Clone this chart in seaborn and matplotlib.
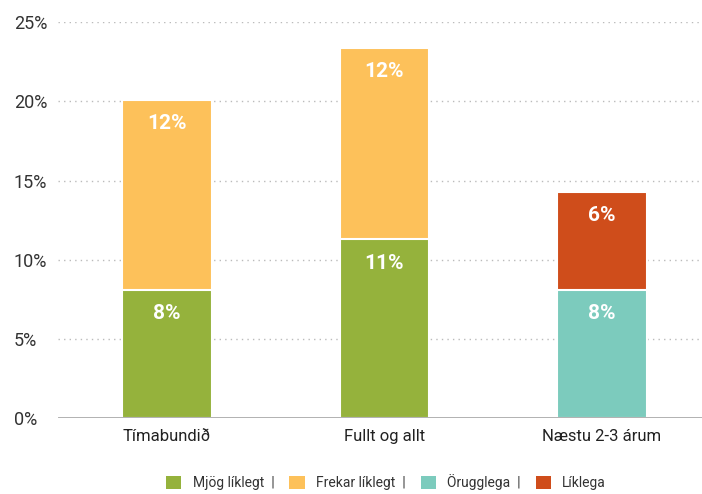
import matplotlib
import matplotlib.pyplot as plt
import pandas as pd
import seaborn as sns
from matplotlib.patches import Patch

matplotlib.use("Agg")

categories = ["Tímabundið", "Fullt og allt", "Næstu 2-3 árum"]
bottom_values = [8.1, 11.3, 8.1]
bottom_series = ["Mjög líklegt", "Mjög líklegt", "Örugglega"]
top_values = [12.0, 12.1, 6.2]
top_series = ["Frekar líklegt", "Frekar líklegt", "Líklega"]
legend_order = ["Mjög líklegt", "Frekar líklegt", "Örugglega", "Líklega"]
colors = {
    "Mjög líklegt": "#95b23c",
    "Frekar líklegt": "#fdc15a",
    "Örugglega": "#7ccbbd",
    "Líklega": "#cf4d1b",
}
y_ticks = [0, 5, 10, 15, 20, 25]

sns.set_style("white")
plt.rcParams["font.family"] = ["Roboto", "DejaVu Sans"]

df_bottom = pd.DataFrame({"cat": categories, "val": bottom_values, "series": bottom_series})
df_top = pd.DataFrame({
    "cat": categories,
    "val": [b + t for b, t in zip(bottom_values, top_values)],
    "series": top_series,
})

fig = plt.figure(figsize=(7.02, 4.94), dpi=100)
ax = fig.add_axes([0.083, 0.154, 0.917, 0.801])

for y in y_ticks[1:]:
    ax.axhline(y, color="#bbbbbb", lw=1, ls=(0, (1, 3)), zorder=0)

sns.barplot(data=df_top, x="cat", y="val", hue="series", palette=colors, dodge=False,
            saturation=1, width=0.41, edgecolor="white", linewidth=1.5, legend=False,
            ax=ax, zorder=2)
sns.barplot(data=df_bottom, x="cat", y="val", hue="series", palette=colors, dodge=False,
            saturation=1, width=0.41, edgecolor="white", linewidth=1.5, legend=False,
            ax=ax, zorder=3)

ax.axhline(0, color="#aaaaaa", lw=2, zorder=4)

# value labels near top of each segment
for i, (b, t) in enumerate(zip(bottom_values, top_values)):
    for top, val in [(b, b), (b + t, t)]:
        ax.annotate(f"{round(val):.0f}%", (i, top), xytext=(0, -24), textcoords="offset pixels",
                    ha="center", va="center", color="white", fontsize=15, fontweight="bold",
                    zorder=5)

ax.set_ylim(0, 25)
ax.set_xlim(-0.5, 2.46)
ax.set_yticks(y_ticks)
ax.set_yticklabels([f"{v}%" for v in y_ticks])
for lbl in ax.get_yticklabels():
    lbl.set_horizontalalignment("left")
ax.tick_params(axis="y", length=0, pad=32, labelsize=13, labelcolor="#333333")
ax.tick_params(axis="x", length=0, pad=8, labelsize=12, labelcolor="#222222")
ax.set_xlabel("")
ax.set_ylabel("")
sns.despine(ax=ax, left=True, bottom=True)

handles = [Patch(facecolor=colors[s], edgecolor="none") for s in legend_order]
labels = [s + "  |" if i < len(legend_order) - 1 else s for i, s in enumerate(legend_order)]
fig.legend(handles, labels, loc="center", bbox_to_anchor=(0.55, 0.024), ncol=4, frameon=False,
           fontsize=10, handlelength=1.1, handleheight=1.1, columnspacing=1.1, handletextpad=0.8,
           labelcolor="#333333")

fig.savefig("out.png", dpi=100)
